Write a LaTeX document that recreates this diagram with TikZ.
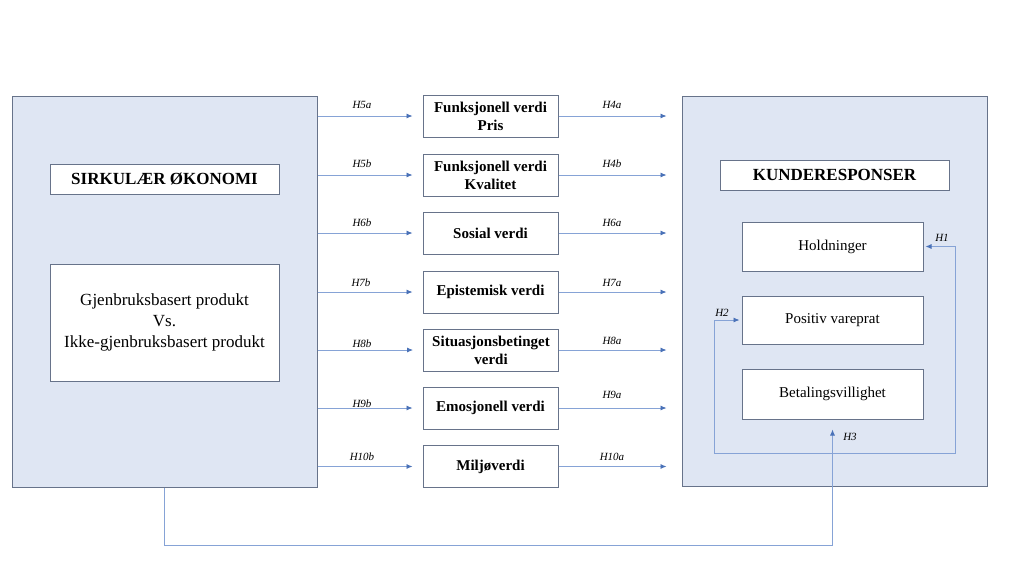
\documentclass[tikz,border=0pt]{standalone}
\usepackage{fontspec}
\setmainfont{Liberation Serif}
\usetikzlibrary{arrows.meta}
\definecolor{boxfill}{HTML}{DFE6F3}
\definecolor{boxline}{HTML}{67738A}
\definecolor{conncol}{HTML}{86A3D6}
\definecolor{tipcol}{HTML}{4A72B8}
\tikzset{
  tip/.tip={Latex[length=6pt,width=5pt,fill=tipcol,color=tipcol]},
  bigbox/.style={draw=boxline, fill=boxfill, line width=1pt, rectangle, inner sep=0pt},
  wbox/.style={draw=boxline, fill=white, line width=1pt, rectangle, inner sep=0pt, align=center},
  midbox/.style={wbox, minimum width=135pt, minimum height=42pt, font=\fontsize{15}{18}\selectfont\bfseries},
  rbox/.style={wbox, minimum width=181pt, font=\fontsize{15}{17}\selectfont},
  conn/.style={draw=conncol, line width=0.8pt, -tip},
  lbl/.style={font=\fontsize{11}{13}\selectfont\itshape, inner sep=0pt}
}
\begin{document}
\begin{tikzpicture}[x=1pt,y=-1pt]
\useasboundingbox[fill=white] (0,0) rectangle (1024,576);
% left
\node[bigbox, minimum width=305pt, minimum height=391pt] (L) at (164.5,291.5) {};
\node[wbox, minimum width=229pt, minimum height=30pt, font=\fontsize{17}{19}\selectfont\bfseries] (S) at (164.5,179) {SIRKULÆR ØKONOMI};
\node[wbox, minimum width=229pt, minimum height=117pt, font=\fontsize{17}{21}\selectfont] (G) at (164.5,322.5) {Gjenbruksbasert produkt\\Vs.\\Ikke-gjenbruksbasert produkt};
% right
\node[bigbox, minimum width=305pt, minimum height=390pt] (R) at (834.5,291) {};
\node[wbox, minimum width=229pt, minimum height=30pt, font=\fontsize{17}{19}\selectfont\bfseries] (K) at (834.5,175) {KUNDERESPONSER};
\node[rbox, minimum height=49pt] (Ho) at (832.5,246.5) {Holdninger};
\node[rbox, minimum height=48pt] (Po) at (832.5,320) {Positiv vareprat};
\node[rbox, minimum height=50pt] (Be) at (832.5,394) {Betalingsvillighet};
% middle
\node[midbox] (M1) at (490.5,116) {Funksjonell verdi\\Pris};
\node[midbox] (M2) at (490.5,175) {Funksjonell verdi\\Kvalitet};
\node[midbox] (M3) at (490.5,233) {Sosial verdi};
\node[midbox] (M4) at (490.5,292) {Epistemisk verdi};
\node[midbox] (M5) at (491,350) {Situasjonsbetinget\\verdi};
\node[midbox] (M6) at (490.5,408) {Emosjonell verdi};
\node[midbox] (M7) at (490.5,466.5) {Miljøverdi};
% connectors
\foreach \m in {M1,M2,M3,M4,M5,M6,M7}{
  \draw[conn, shorten >=10pt] (L.east |- \m.west) -- (\m.west);
  \draw[conn, shorten >=15pt] (\m.east) -- (R.west |- \m.east);
}
\node[lbl] at (362,105) {H5a};
\node[lbl] at (362,164) {H5b};
\node[lbl] at (362,223) {H6b};
\node[lbl] at (361,283) {H7b};
\node[lbl] at (362,344) {H8b};
\node[lbl] at (362,404) {H9b};
\node[lbl] at (362,457) {H10b};
\node[lbl] at (612,105) {H4a};
\node[lbl] at (612,164) {H4b};
\node[lbl] at (612,223) {H6a};
\node[lbl] at (612,283) {H7a};
\node[lbl] at (612,341) {H8a};
\node[lbl] at (612,395) {H9a};
\node[lbl] at (612,457) {H10a};
% loop H1/H2
\coordinate (lr) at (955,453);
\coordinate (ll) at (714,453);
\draw[conn, tip-tip, shorten <=2pt, shorten >=2pt] (Ho.east) -| (lr) -- (ll) |- (Po.west);
\node[lbl] at (942,238) {H1};
\node[lbl] at (722,313) {H2};
% H3
\draw[conn, shorten >=10pt] (L.south) -- ++(0,58) -| (Be.south);
\node[lbl] at (850,437) {H3};
\end{tikzpicture}
\end{document}
